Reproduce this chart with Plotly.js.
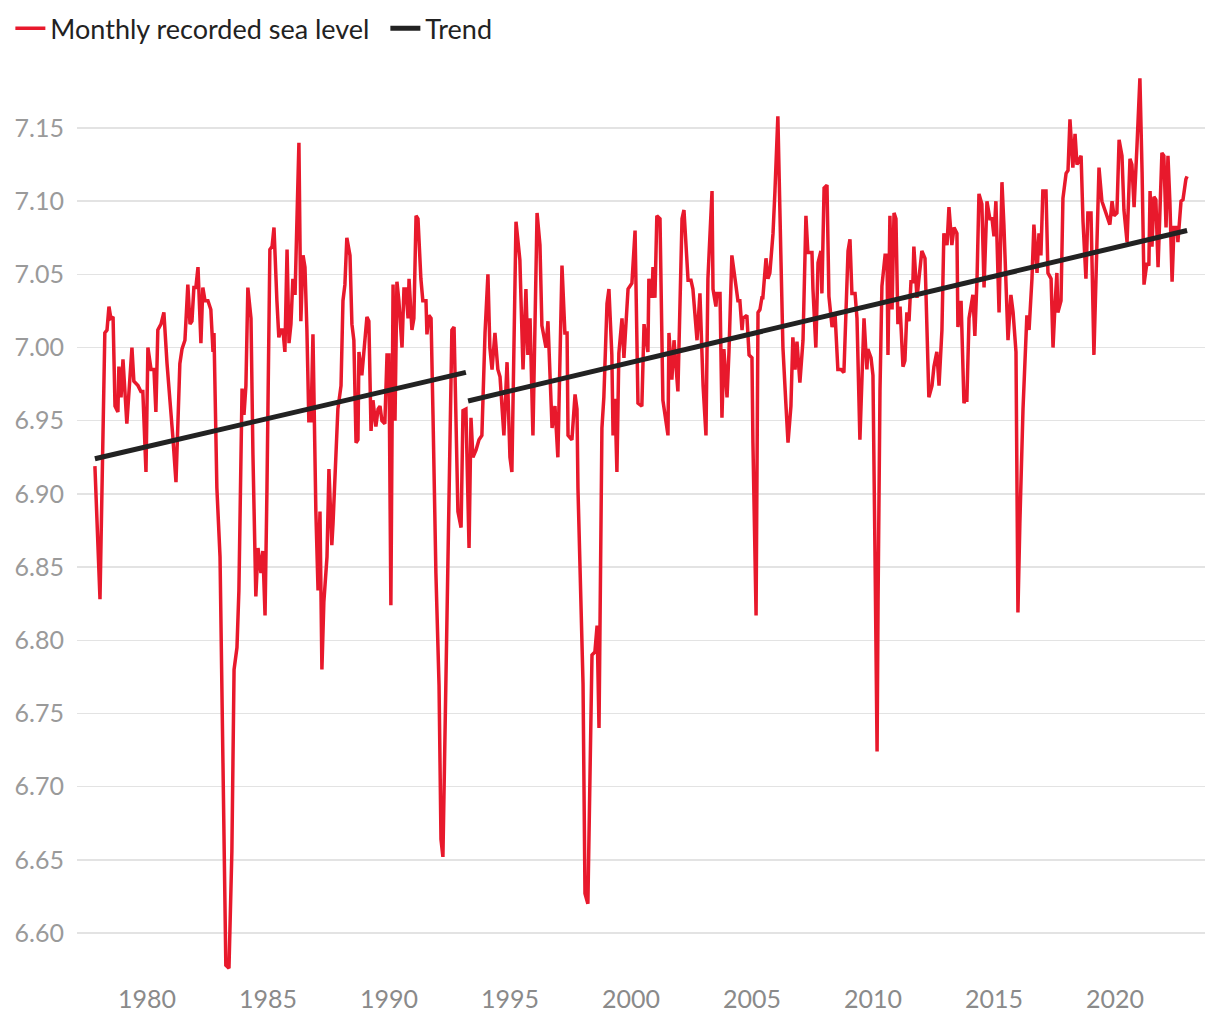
<!DOCTYPE html>
<html>
<head>
<meta charset="utf-8">
<script src="https://cdn.plot.ly/plotly-3.0.1.min.js"></script>
<style>
  html, body { margin: 0; padding: 0; background: #ffffff; }
  #chart { width: 1220px; height: 1020px; }
</style>
</head>
<body>
<div id="chart"></div>
<script>
// Monthly recorded sea level (decimal year, metres)
const seaYears = [
1977.85,1978.06,1978.26,1978.35,1978.43,1978.51,1978.60,1978.68,1978.80,1978.84,1978.93,1979.01,1979.17,1979.38,1979.46,1979.63,1979.75,1979.83,1979.96,
1980.04,1980.17,1980.29,1980.37,1980.45,1980.58,1980.70,1980.83,1980.95,1981.07,1981.20,1981.28,1981.36,1981.45,1981.57,1981.69,1981.78,1981.86,1981.94,
1982.02,1982.11,1982.23,1982.31,1982.40,1982.52,1982.64,1982.73,1982.77,1982.89,1983.02,1983.14,1983.26,1983.39,1983.51,1983.60,1983.72,1983.80,1983.93,
1984.01,1984.09,1984.17,1984.30,1984.38,1984.50,1984.59,1984.71,1984.79,1984.88,1984.96,1985.08,1985.17,1985.25,1985.37,1985.45,1985.54,1985.62,1985.70,1985.79,1985.87,1985.95,
1986.03,1986.12,1986.28,1986.36,1986.45,1986.53,1986.61,1986.69,1986.78,1986.86,1986.98,1987.07,1987.15,1987.23,1987.31,1987.44,1987.52,1987.64,1987.69,1987.81,1987.89,
1988.02,1988.10,1988.18,1988.26,1988.39,1988.47,1988.55,1988.64,1988.72,1988.76,1988.88,1988.97,1989.09,1989.17,1989.26,1989.34,1989.46,1989.55,1989.63,1989.71,1989.83,1989.92,
1990.00,1990.08,1990.17,1990.25,1990.33,1990.41,1990.54,1990.62,1990.70,1990.79,1990.83,1990.95,1991.03,1991.12,1991.20,1991.32,1991.40,1991.53,1991.57,1991.65,1991.74,1991.82,1991.94,
1992.07,1992.15,1992.23,1992.31,1992.44,1992.52,1992.60,1992.69,1992.77,1992.85,1992.98,1993.06,1993.18,1993.31,1993.39,1993.47,1993.60,1993.72,1993.84,1993.97,
1994.09,1994.17,1994.26,1994.38,1994.50,1994.59,1994.75,1994.88,1995.00,1995.08,1995.25,1995.41,1995.54,1995.66,1995.74,1995.83,1995.95,
1996.12,1996.24,1996.32,1996.49,1996.57,1996.74,1996.86,1996.98,1997.15,1997.27,1997.36,1997.40,1997.56,1997.69,1997.77,1997.81,1997.89,
1998.02,1998.10,1998.22,1998.39,1998.51,1998.60,1998.68,1998.80,1998.88,1999.01,1999.09,1999.21,1999.26,1999.34,1999.42,1999.50,1999.63,1999.71,1999.88,
2000.04,2000.17,2000.29,2000.45,2000.54,2000.70,2000.74,2000.87,2000.91,2000.99,2001.07,2001.20,2001.32,2001.40,2001.53,2001.57,2001.69,2001.78,2001.94,
2002.11,2002.19,2002.36,2002.48,2002.56,2002.73,2002.85,2002.98,2003.10,2003.18,2003.35,2003.39,2003.51,2003.55,2003.68,2003.76,2003.84,2003.97,
2004.05,2004.17,2004.30,2004.42,2004.50,2004.59,2004.63,2004.79,2004.88,2005.00,2005.04,2005.17,2005.25,2005.33,2005.41,2005.45,2005.58,2005.66,2005.74,2005.87,2005.95,
2006.07,2006.20,2006.28,2006.40,2006.49,2006.61,2006.69,2006.78,2006.86,2006.98,2007.11,2007.23,2007.31,2007.48,2007.52,2007.64,2007.73,2007.85,2007.89,2007.98,
2008.10,2008.18,2008.31,2008.43,2008.55,2008.68,2008.80,2008.97,2009.05,2009.13,2009.26,2009.34,2009.46,2009.55,2009.63,2009.75,2009.79,2009.92,
2010.00,2010.08,2010.17,2010.21,2010.29,2010.37,2010.50,2010.58,2010.62,2010.70,2010.79,2010.87,2010.95,2011.03,2011.12,2011.24,2011.32,2011.40,2011.49,2011.57,2011.65,2011.69,2011.82,2011.90,
2012.02,2012.15,2012.31,2012.44,2012.52,2012.64,2012.73,2012.85,2012.93,2013.06,2013.14,2013.26,2013.35,2013.47,2013.51,2013.64,2013.76,2013.80,2013.88,2013.97,
2014.13,2014.21,2014.30,2014.38,2014.50,2014.59,2014.71,2014.83,2014.92,2015.00,2015.08,2015.21,2015.33,2015.41,2015.58,2015.70,2015.79,2015.91,2015.99,
2016.07,2016.20,2016.36,2016.45,2016.57,2016.65,2016.78,2016.86,2016.94,2017.02,2017.15,2017.23,2017.36,2017.44,2017.52,2017.60,2017.64,2017.77,2017.85,2017.98,
2018.06,2018.14,2018.26,2018.35,2018.43,2018.60,2018.68,2018.80,2018.88,2019.01,2019.13,2019.26,2019.34,2019.46,2019.63,2019.79,2019.88,2019.96,
2020.08,2020.17,2020.29,2020.37,2020.50,2020.62,2020.70,2020.79,2020.91,2021.03,2021.12,2021.20,2021.32,2021.40,2021.45,2021.53,2021.61,2021.69,2021.78,2021.94,
2022.02,2022.11,2022.19,2022.27,2022.36,2022.44,2022.56,2022.60,2022.73,2022.81,2022.93,2022.98
];
const seaLevels = [
6.919,6.828,7.010,7.012,7.028,7.020,7.021,6.960,6.956,6.987,6.966,6.992,6.948,7.000,6.977,6.974,6.970,6.970,6.915,
7.000,6.985,6.985,6.956,7.012,7.016,7.024,6.989,6.966,6.939,6.908,6.946,6.989,6.999,7.005,7.043,7.016,7.018,7.041,
7.041,7.055,7.003,7.041,7.032,7.032,7.026,6.997,7.010,6.904,6.857,6.710,6.578,6.576,6.656,6.780,6.795,6.834,6.972,
6.954,6.974,7.041,7.020,6.927,6.830,6.863,6.846,6.861,6.817,6.904,7.067,7.069,7.082,7.032,7.007,7.012,7.012,6.997,7.067,7.003,7.016,
7.047,7.036,7.140,7.018,7.063,7.055,7.012,6.950,6.950,7.009,6.888,6.834,6.888,6.780,6.826,6.857,6.917,6.865,6.880,6.923,6.958,
6.974,7.032,7.043,7.075,7.063,7.016,7.005,6.935,6.937,6.997,6.981,6.997,7.021,7.018,6.943,6.964,6.946,6.958,6.960,6.950,6.948,6.995,
6.995,6.824,7.043,6.950,7.045,7.032,7.000,7.040,7.040,7.020,7.047,7.012,7.020,7.090,7.088,7.047,7.032,7.032,7.009,7.022,7.020,6.954,6.846,
6.769,6.664,6.652,6.730,6.880,6.935,7.012,7.014,6.958,6.888,6.877,6.957,6.958,6.863,6.952,6.925,6.930,6.937,6.940,7.010,
7.050,7.000,6.985,7.010,6.985,6.980,6.940,6.990,6.925,6.915,7.086,7.060,6.985,7.040,6.995,7.020,6.940,
7.092,7.070,7.015,7.000,7.018,6.945,6.960,6.925,7.056,7.010,7.010,6.940,6.937,6.968,6.958,6.904,6.850,
6.770,6.627,6.620,6.790,6.792,6.810,6.740,6.945,6.966,7.030,7.040,6.995,6.940,6.965,6.915,6.996,7.020,6.993,7.040,
7.044,7.080,6.962,6.960,7.016,6.997,7.047,7.034,7.055,7.034,7.090,7.088,6.964,6.954,6.940,7.010,6.978,7.005,6.970,
7.088,7.094,7.046,7.046,7.040,7.005,7.037,6.974,6.940,7.047,7.107,7.040,7.028,7.037,7.037,6.952,6.999,6.966,
6.997,7.063,7.047,7.032,7.032,7.012,7.020,7.022,6.995,6.993,6.935,6.817,7.024,7.026,7.034,7.034,7.061,7.047,7.051,7.078,7.107,
7.158,7.059,7.000,6.962,6.935,6.960,7.007,6.985,7.004,6.976,7.005,7.090,7.065,7.065,7.040,7.000,7.058,7.066,7.037,7.109,
7.111,7.035,7.014,7.024,6.985,6.985,6.983,7.066,7.074,7.037,7.037,7.020,6.937,6.981,7.020,6.985,6.999,6.993,
6.981,6.865,6.724,6.826,6.970,7.042,7.063,7.063,6.995,7.090,7.026,7.092,7.088,7.016,7.028,6.987,6.991,7.024,7.018,7.045,7.045,7.069,7.034,7.047,
7.066,7.061,6.966,6.974,6.987,6.997,6.974,7.012,7.078,7.070,7.096,7.070,7.082,7.078,7.014,7.032,6.962,6.964,6.964,7.020,
7.036,7.008,7.047,7.105,7.098,7.041,7.100,7.088,7.088,7.076,7.100,7.024,7.113,7.084,7.005,7.036,7.024,6.997,6.819,
6.880,6.958,7.022,7.012,7.047,7.084,7.051,7.078,7.063,7.107,7.107,7.051,7.047,7.000,7.028,7.051,7.024,7.032,7.102,7.119,
7.121,7.156,7.123,7.146,7.125,7.131,7.086,7.047,7.092,7.092,6.995,7.074,7.123,7.100,7.092,7.084,7.100,7.090,
7.092,7.142,7.131,7.094,7.072,7.129,7.125,7.096,7.138,7.184,7.120,7.043,7.058,7.056,7.107,7.069,7.103,7.101,7.055,7.133,
7.131,7.082,7.131,7.099,7.045,7.082,7.082,7.072,7.100,7.101,7.115,7.117
];

// Trend: two linear segments (break in 1993)
const trendYears = [1977.85, 1993.18, null, 1993.27, 2022.98];
const trendLevels = [6.924, 6.983, null, 6.9635, 7.080];

// Axis ticks
const xTickVals = [1980, 1985, 1990, 1995, 2000, 2005, 2010, 2015, 2020];
const xTickText = ["1980", "1985", "1990", "1995", "2000", "2005", "2010", "2015", "2020"];
const yTickVals = [6.60, 6.65, 6.70, 6.75, 6.80, 6.85, 6.90, 6.95, 7.00, 7.05, 7.10, 7.15];
const yTickText = ["6.60", "6.65", "6.70", "6.75", "6.80", "6.85", "6.90", "6.95", "7.00", "7.05", "7.10", "7.15"];

const FONT = "Lato, 'Open Sans', sans-serif";

const traces = [
  {
    x: seaYears, y: seaLevels, type: "scatter", mode: "lines",
    name: "Monthly recorded sea level",
    line: { color: "#e8192c", width: 3.5, shape: "linear" },
    hoverinfo: "skip"
  },
  {
    x: trendYears, y: trendLevels, type: "scatter", mode: "lines",
    name: "Trend",
    connectgaps: false,
    line: { color: "#222222", width: 5 },
    hoverinfo: "skip"
  }
];

const layout = {
  width: 1220, height: 1020,
  margin: { l: 77, r: 15, t: 55, b: 50 },
  paper_bgcolor: "#ffffff", plot_bgcolor: "#ffffff",
  font: { family: FONT, color: "#222222", size: 22 },
  showlegend: true,
  legend: {
    orientation: "h",
    xref: "container", yref: "container",
    x: 0.0085, y: 0.996, xanchor: "left", yanchor: "top",
    font: { family: FONT, size: 27, color: "#222222" },
    itemwidth: 30, tracegroupgap: 0,
    entrywidth: 330, entrywidthmode: "pixels",
    bgcolor: "rgba(0,0,0,0)"
  },
  xaxis: {
    range: [1977.11, 2023.72],
    tickmode: "array", tickvals: xTickVals, ticktext: xTickText,
    showgrid: false, zeroline: false, showline: false, ticks: "",
    tickfont: { family: FONT, size: 25, color: "#8a8a8a" },
    ticklabelstandoff: 12
  },
  yaxis: {
    range: [6.5747, 7.1999],
    tickmode: "array", tickvals: yTickVals, ticktext: yTickText,
    showgrid: true, gridcolor: "#e3e3e3", gridwidth: 1.5,
    zeroline: false, showline: false, ticks: "",
    tickfont: { family: FONT, size: 25, color: "#9a9a9a" },
    ticklabelstandoff: 12
  }
};

Plotly.newPlot("chart", traces, layout, { displayModeBar: false, staticPlot: true });
</script>
</body>
</html>
